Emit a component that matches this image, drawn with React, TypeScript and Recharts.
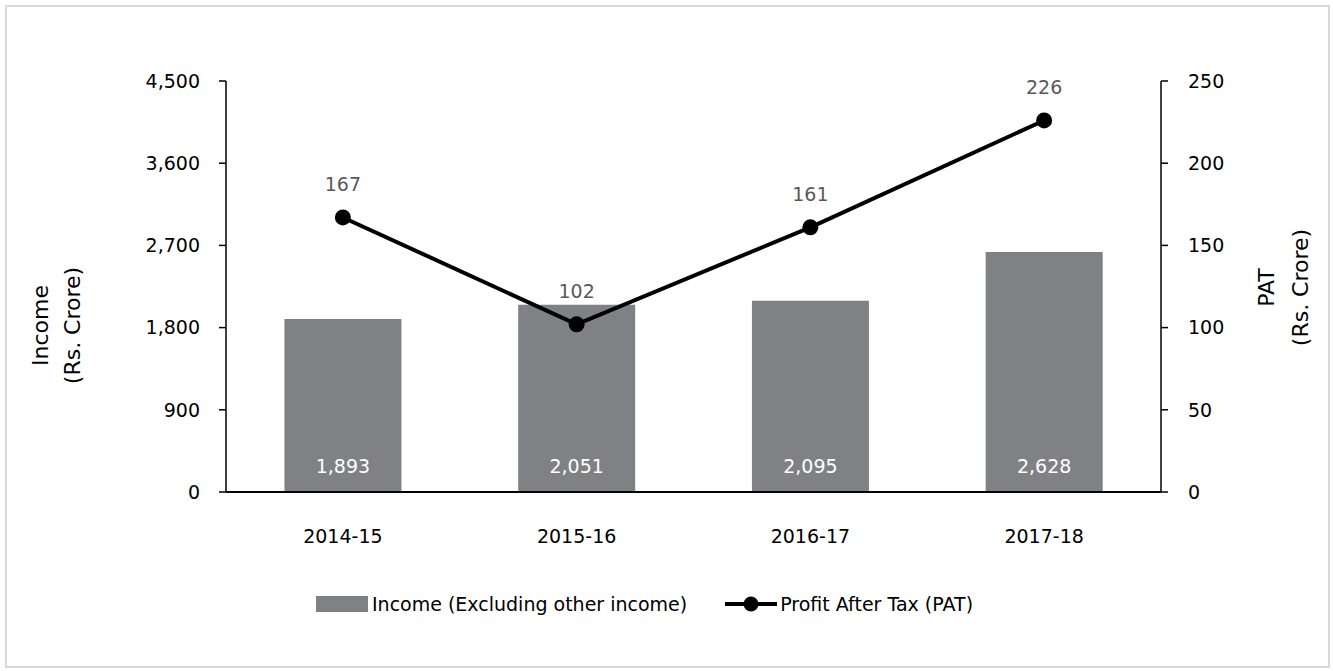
import React from 'react';
import {
  ComposedChart,
  Bar,
  Line,
  XAxis,
  YAxis,
  LabelList,
  Legend,
} from 'recharts';

const years = ['2014-15', '2015-16', '2016-17', '2017-18'];
const income = [1893, 2051, 2095, 2628];
const pat = [167, 102, 161, 226];
const incomeTicks = [0, 900, 1800, 2700, 3600, 4500];
const patTicks = [0, 50, 100, 150, 200, 250];

const FONT = '"DejaVu Sans", sans-serif';
const BAR_COLOR = '#808184';

const data = years.map((year, i) => ({ year, income: income[i], pat: pat[i] }));

const fmt = (v: any) => Number(v).toLocaleString('en-US');

const tickStyle = { fill: '#000', fontSize: 19, fontFamily: FONT };

function AxisTitle({ viewBox, lines, dx, dy }: any) {
  const cy = viewBox.y + viewBox.height / 2 + dy;
  return (
    <g>
      {lines.map((t: string, i: number) => {
        const cx = viewBox.x + dx[i];
        return (
          <text
            key={t}
            x={cx}
            y={cy}
            textAnchor="middle"
            dominantBaseline="central"
            transform={`rotate(-90, ${cx}, ${cy})`}
            fontSize={22}
            fontFamily={FONT}
            fill="#000"
          >
            {t}
          </text>
        );
      })}
    </g>
  );
}

function LegendBox() {
  return (
    <div style={{ display: 'flex', alignItems: 'center', fontFamily: FONT, fontSize: 19, color: '#000', whiteSpace: 'nowrap' }}>
      <span style={{ display: 'inline-block', width: 52, height: 16, background: BAR_COLOR, marginRight: 4 }} />
      <span>Income (Excluding other income)</span>
      <svg width={52} height={18} style={{ marginLeft: 38, marginRight: 3 }}>
        <line x1={0} y1={9} x2={52} y2={9} stroke="#000" strokeWidth={4} />
        <circle cx={26} cy={9} r={7.5} fill="#000" />
      </svg>
      <span>Profit After Tax (PAT)</span>
    </div>
  );
}

export default function App() {
  return (
    <div style={{ position: 'absolute', left: 0, top: 0, width: 1333, height: 671, background: '#fff' }}>
      <div
        style={{
          position: 'absolute',
          left: 5,
          top: 5,
          width: 1321,
          height: 659,
          border: '2px solid #d9d9d9',
        }}
      />
      <ComposedChart
        width={1333}
        height={671}
        data={data}
        margin={{ top: 81, right: 50, bottom: 119, left: 90 }}
        barCategoryGap="25%"
        style={{ position: 'absolute', left: 0, top: 0 }}
      >
        <XAxis
          dataKey="year"
          height={60}
          tickLine={false}
          tickSize={6}
          tickMargin={32}
          axisLine={{ stroke: '#000', strokeWidth: 2 }}
          tick={tickStyle}
        />
        <YAxis
          yAxisId="left"
          width={136}
          domain={[0, 4500]}
          ticks={incomeTicks}
          tickFormatter={fmt}
          tickSize={7}
          tickMargin={19}
          axisLine={{ stroke: '#000', strokeWidth: 1.5 }}
          tickLine={{ stroke: '#000', strokeWidth: 1.5 }}
          tick={tickStyle}
          label={<AxisTitle lines={['Income', '(Rs. Crore)']} dx={[-50, -18]} dy={39} />}
        />
        <YAxis
          yAxisId="right"
          orientation="right"
          width={122}
          domain={[0, 250]}
          ticks={patTicks}
          tickSize={7}
          tickMargin={20}
          axisLine={{ stroke: '#000', strokeWidth: 1.5 }}
          tickLine={{ stroke: '#000', strokeWidth: 1.5 }}
          tick={tickStyle}
          label={<AxisTitle lines={['PAT', '(Rs. Crore)']} dx={[105, 139]} dy={1} />}
        />
        <Legend
          layout="horizontal"
          verticalAlign="middle"
          align="center"
          wrapperStyle={{ left: 316, top: 593, width: 'auto' }}
          content={() => <LegendBox />}
        />
        <Bar yAxisId="left" dataKey="income" fill={BAR_COLOR} isAnimationActive={false}>
          <LabelList
            dataKey="income"
            position="insideBottom"
            offset={19}
            formatter={fmt}
            fill="#fff"
            fontSize={19}
            fontFamily={FONT}
          />
        </Bar>
        <Line
          yAxisId="right"
          dataKey="pat"
          stroke="#000"
          strokeWidth={4}
          dot={{ r: 8, fill: '#000', stroke: '#000', strokeWidth: 0 }}
          activeDot={false}
          isAnimationActive={false}
        >
          <LabelList
            dataKey="pat"
            position="top"
            offset={26}
            fill="#595959"
            fontSize={19}
            fontFamily={FONT}
          />
        </Line>
      </ComposedChart>
    </div>
  );
}
